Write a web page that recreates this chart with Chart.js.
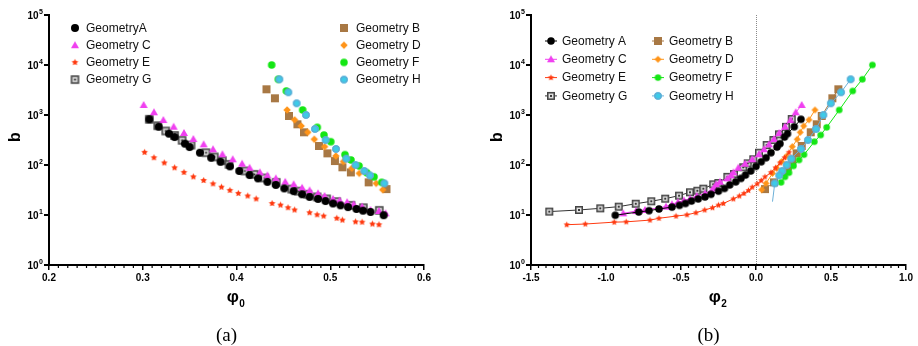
<!DOCTYPE html>
<html>
<head>
<meta charset="utf-8">
<script src="https://cdn.jsdelivr.net/npm/chart.js@4.4.1/dist/chart.umd.min.js"></script>
<style>
  html, body { margin: 0; padding: 0; background: #fff; }
  #wrap { position: relative; width: 918px; height: 346px; }
  .panel { position: absolute; top: 0; width: 459px; height: 346px; }
</style>
</head>
<body>
<div id="wrap">
  <div class="panel" style="left:0"><canvas id="panelA" width="459" height="346"></canvas></div>
  <div class="panel" style="left:459px"><canvas id="panelB" width="459" height="346"></canvas></div>
</div>
<script>
// b values are shared by both panels; phi0 is x in (a), phi2 is x in (b)
const bA    = [820, 583, 423, 363, 267, 229, 176, 140, 116, 94, 76, 63, 54, 46, 40, 34, 30, 26, 23, 21, 19, 17, 15.6, 14.4, 13.2, 12.2, 11.5, 9.9];
const phi0A = [0.307, 0.317, 0.328, 0.334, 0.345, 0.350, 0.361, 0.373, 0.383, 0.393, 0.403, 0.414, 0.423, 0.433, 0.442, 0.451, 0.461, 0.470, 0.478, 0.487, 0.495, 0.503, 0.511, 0.519, 0.528, 0.535, 0.543, 0.557];
const phi2A = [0.300, 0.255, 0.21, 0.19, 0.16, 0.14, 0.10, 0.067, 0.035, 0.0, -0.035, -0.07, -0.10, -0.135, -0.175, -0.21, -0.25, -0.30, -0.34, -0.385, -0.43, -0.47, -0.51, -0.56, -0.647, -0.713, -0.782, -0.938];

const bC    = [1585, 1132, 794, 583, 437, 331, 259, 206, 164, 130, 106, 88, 71, 62, 54, 46, 41, 35, 31, 27, 24, 21, 19.5, 18, 16.4, 14.7, 12.6, 12, 10.8];
const phi0C = [0.301, 0.312, 0.322, 0.333, 0.344, 0.354, 0.365, 0.375, 0.385, 0.396, 0.406, 0.414, 0.425, 0.433, 0.442, 0.452, 0.461, 0.470, 0.478, 0.487, 0.494, 0.503, 0.510, 0.518, 0.525, 0.534, 0.543, 0.552, 0.559];
const phi2C = [0.305, 0.265, 0.23, 0.193, 0.155, 0.12, 0.087, 0.053, 0.02, -0.025, -0.073, -0.118, -0.15, -0.167, -0.19, -0.24, -0.265, -0.28, -0.295, -0.34, -0.395, -0.44, -0.48, -0.52, -0.56, -0.60, -0.74, -0.80, -0.885];

const bE    = [179, 140, 110, 88, 71, 58, 49, 42, 36, 31, 27, 24, 21, 17, 15.8, 14, 12.6, 11.1, 10.1, 9.5, 8.6, 7.9, 7.3, 7.2, 6.6, 6.4];
const phi0E = [0.302, 0.312, 0.323, 0.334, 0.344, 0.354, 0.365, 0.375, 0.384, 0.393, 0.402, 0.412, 0.421, 0.438, 0.447, 0.455, 0.462, 0.478, 0.486, 0.493, 0.507, 0.513, 0.527, 0.534, 0.545, 0.552];
const phi2E = [0.22, 0.19, 0.16, 0.13, 0.10, 0.06, 0.035, 0.008, -0.025, -0.05, -0.08, -0.111, -0.151, -0.218, -0.25, -0.29, -0.342, -0.40, -0.46, -0.533, -0.647, -0.707, -0.865, -0.945, -1.138, -1.262];

// Geometry G read separately in each panel
const bG0   = [820, 611, 479, 390, 312, 251, 176, 145, 122, 103, 76, 65, 55, 45, 33, 30, 26, 23, 21, 18.5, 15.6, 14, 12.4];
const phi0G = [0.307, 0.316, 0.3245, 0.334, 0.342, 0.3515, 0.3675, 0.3763, 0.3849, 0.392, 0.409, 0.419, 0.430, 0.4424, 0.4589, 0.466, 0.476, 0.486, 0.4962, 0.5069, 0.5221, 0.5353, 0.5523];
const bG2   = [11.7, 12.6, 13.6, 14.7, 16.8, 18.8, 21.2, 24.4, 28.5, 30.6, 33.6, 41, 43.6, 58, 66, 90, 108, 130, 176, 251, 316, 410, 580, 830];
const phi2G = [-1.378, -1.18, -1.038, -0.915, -0.802, -0.698, -0.605, -0.513, -0.44, -0.391, -0.351, -0.285, -0.251, -0.191, -0.147, -0.085, -0.055, -0.018, 0.02, 0.071, 0.116, 0.153, 0.20, 0.238];

const bB    = [3265, 2158, 955, 652, 451, 240, 171, 120, 90, 71, 45, 33];
const phi0B = [0.432, 0.441, 0.456, 0.465, 0.472, 0.488, 0.497, 0.505, 0.513, 0.522, 0.541, 0.560];
const phi2B = [0.549, 0.509, 0.438, 0.405, 0.365, 0.305, 0.271, 0.242, 0.211, 0.182, 0.12, 0.06];

const bD    = [1259, 800, 603, 451, 327, 233, 151, 117, 86, 68, 43, 32];
const phi0D = [0.454, 0.462, 0.469, 0.476, 0.483, 0.494, 0.506, 0.514, 0.523, 0.531, 0.549, 0.556];
const phi2D = [0.393, 0.353, 0.318, 0.295, 0.275, 0.242, 0.205, 0.171, 0.138, 0.11, 0.067, 0.038];

const bF    = [10000, 5176, 3020, 1259, 567, 398, 292, 161, 126, 96, 70, 58, 45];
const phi0F = [0.4375, 0.4446, 0.4532, 0.4706, 0.4862, 0.4933, 0.5006, 0.5157, 0.5221, 0.5307, 0.539, 0.5467, 0.5549];
const phi2F = [0.776, 0.709, 0.645, 0.555, 0.471, 0.431, 0.389, 0.32, 0.287, 0.25, 0.22, 0.193, 0.167];

const bH    = [5176, 2844, 1714, 1000, 525, 316, 209, 134, 100, 76, 62, 43];
const phi0H = [0.4457, 0.4553, 0.4642, 0.4741, 0.4837, 0.4951, 0.5061, 0.5171, 0.527, 0.5363, 0.5424, 0.5577];
const phi2H = [0.631, 0.567, 0.499, 0.449, 0.40, 0.346, 0.30, 0.235, 0.205, 0.175, 0.155, 0.125];
// fitted line for H runs on below its last point
const fitHphi2 = [0.125, 0.11];
const fitHb    = [43, 18.5];

const labelsA = { A: "GeometryA", B: "Geometry B", C: "Geometry C", D: "Geometry D", E: "Geometry E", F: "Geometry F", G: "Geometry G", H: "Geometry H" };
const labelsB = { A: "Geometry A", B: "Geometry B", C: "Geometry C", D: "Geometry D", E: "Geometry E", F: "Geometry F", G: "Geometry G", H: "Geometry H" };

const colors = { A: "#000000", B: "#a87844", C: "#f040f0", D: "#ff9418", E: "#ff3a10", F: "#14e614", G: "#333333", H: "#6cb0d8" };

function pts(xs, ys) {
  return xs.map((x, i) => ({ x, y: ys[i] }));
}

// small canvases used as point styles
function makeMarker(kind, size, fill, ring) {
  const s = Math.ceil(size) + 2;
  const c = document.createElement("canvas");
  c.width = s;
  c.height = s;
  const g = c.getContext("2d");
  const m = s / 2, r = size / 2;
  g.fillStyle = fill;
  g.beginPath();
  if (kind === "circle") {
    g.arc(m, m, r, 0, Math.PI * 2);
    g.fill();
    if (ring) {
      g.strokeStyle = ring;
      g.lineWidth = 1.2;
      g.beginPath();
      g.arc(m, m, r - 0.6, 0, Math.PI * 2);
      g.stroke();
    }
  } else if (kind === "triangle") {
    g.moveTo(m, m - r);
    g.lineTo(m + r, m + r * 0.75);
    g.lineTo(m - r, m + r * 0.75);
    g.closePath();
    g.fill();
  } else if (kind === "star") {
    for (let i = 0; i < 10; i++) {
      const a = -Math.PI / 2 + (i * Math.PI) / 5;
      const rr = i % 2 ? r * 0.5 : r;
      g.lineTo(m + rr * Math.cos(a), m + rr * Math.sin(a));
    }
    g.closePath();
    g.fill();
  } else if (kind === "square") {
    g.fillRect(m - r, m - r, size, size);
  } else if (kind === "diamond") {
    g.moveTo(m, m - r);
    g.lineTo(m + r, m);
    g.lineTo(m, m + r);
    g.lineTo(m - r, m);
    g.closePath();
    g.fill();
  } else if (kind === "framed") {
    g.fillStyle = "#444444";
    g.fillRect(m - r, m - r, size, size);
    g.fillStyle = "#8e8e8e";
    g.fillRect(m - r + 1.3, m - r + 1.3, size - 2.6, size - 2.6);
    const q = size * 0.27;
    g.fillStyle = "#e4e4e4";
    g.fillRect(m - q, m - q, 2 * q, 2 * q);
    g.fillStyle = "#111111";
    g.fillRect(m - 0.9, m - 0.9, 1.8, 1.8);
  }
  return c;
}

const markersA = {
  A: makeMarker("circle", 8, colors.A),
  C: makeMarker("triangle", 8, colors.C),
  E: makeMarker("star", 7, colors.E),
  G: makeMarker("framed", 8.5),
  B: makeMarker("square", 8, colors.B),
  D: makeMarker("diamond", 7.5, colors.D),
  F: makeMarker("circle", 7.5, colors.F),
  H: makeMarker("circle", 7.5, "#3ccbe8", "#62a9d4"),
};
const markersB = {
  A: makeMarker("circle", 7.5, colors.A),
  C: makeMarker("triangle", 8, colors.C),
  E: makeMarker("star", 6.5, colors.E),
  G: makeMarker("framed", 8),
  B: makeMarker("square", 8, colors.B),
  D: makeMarker("diamond", 7, colors.D),
  F: makeMarker("circle", 6.5, colors.F),
  H: makeMarker("circle", 7.5, "#3ccbe8", "#62a9d4"),
};

// lower order = drawn on top
const drawOrder = { A: 1, C: 2, E: 3, G: 4, H: 5, F: 6, D: 7, B: 8 };

function series(key, data, labels, markers, withLine) {
  return {
    label: labels[key],
    data,
    order: drawOrder[key],
    showLine: withLine,
    borderColor: colors[key],
    borderWidth: 1,
    backgroundColor: colors[key],
    pointStyle: markers[key],
    pointRadius: 4,
  };
}

const leftSets = [
  series("A", pts(phi0A, bA), labelsA, markersA, false),
  series("C", pts(phi0C, bC), labelsA, markersA, false),
  series("E", pts(phi0E, bE), labelsA, markersA, false),
  series("G", pts(phi0G, bG0), labelsA, markersA, false),
  series("B", pts(phi0B, bB), labelsA, markersA, false),
  series("D", pts(phi0D, bD), labelsA, markersA, false),
  series("F", pts(phi0F, bF), labelsA, markersA, false),
  series("H", pts(phi0H, bH), labelsA, markersA, false),
];

const rightSets = [
  series("A", pts(phi2A, bA), labelsB, markersB, true),
  series("C", pts(phi2C, bC), labelsB, markersB, true),
  series("E", pts(phi2E, bE), labelsB, markersB, true),
  series("G", pts(phi2G, bG2), labelsB, markersB, true),
  series("B", pts(phi2B, bB), labelsB, markersB, true),
  series("D", pts(phi2D, bD), labelsB, markersB, true),
  series("F", pts(phi2F, bF), labelsB, markersB, true),
  series("H", pts(phi2H, bH), labelsB, markersB, true),
  {
    label: "H fit",
    data: pts(fitHphi2, fitHb),
    order: 9,
    showLine: true,
    borderColor: colors.H,
    borderWidth: 1,
    pointRadius: 0,
  },
];

function decor(opts) {
  return {
    id: "decor",
    beforeDatasetsDraw(chart) {
      if (!opts.zeroLine) return;
      const { ctx, chartArea: a } = chart;
      const px = Math.round(chart.scales.x.getPixelForValue(0)) + 0.5;
      ctx.save();
      ctx.strokeStyle = "#8a8a8a";
      ctx.lineWidth = 1;
      ctx.setLineDash([1, 1]);
      ctx.beginPath();
      ctx.moveTo(px, a.top);
      ctx.lineTo(px, a.bottom);
      ctx.stroke();
      ctx.restore();
    },
    afterDraw(chart) {
      const { ctx, chartArea: a } = chart;
      const x = chart.scales.x;
      const y = chart.scales.y;
      ctx.save();

      // minor ticks on x
      ctx.strokeStyle = "#000";
      ctx.lineWidth = 1.2;
      const n = Math.round((x.max - x.min) / opts.minor);
      const per = Math.round(opts.major / opts.minor);
      for (let i = 0; i <= n; i++) {
        if (i % per === 0) continue;
        const px = x.getPixelForValue(x.min + i * opts.minor);
        ctx.beginPath();
        ctx.moveTo(px, a.bottom);
        ctx.lineTo(px, a.bottom + 3);
        ctx.stroke();
      }

      // y tick labels as 10 with superscript
      ctx.fillStyle = "#000";
      ctx.textAlign = "right";
      ctx.textBaseline = "alphabetic";
      y.ticks.forEach((t) => {
        const e = Math.round(Math.log10(t.value));
        const py = y.getPixelForValue(t.value);
        const right = a.left - 6;
        ctx.font = 'bold 7px "Liberation Sans"';
        const sw = ctx.measureText(String(e)).width;
        ctx.fillText(String(e), right, py - 1);
        ctx.font = 'bold 10px "Liberation Sans"';
        ctx.fillText("10", right - sw - 0.5, py + 3.6);
      });

      // y title
      ctx.save();
      ctx.translate(a.left - 35, (a.top + a.bottom) / 2 - 3);
      ctx.rotate(-Math.PI / 2);
      ctx.textAlign = "center";
      ctx.font = 'bold 16px "Liberation Sans"';
      ctx.fillText("b", 0, 6);
      ctx.restore();

      // x title phi with subscript
      const cx = (a.left + a.right) / 2;
      ctx.font = 'bold 17px "Liberation Sans"';
      const pw = ctx.measureText("\u03c6").width;
      ctx.font = 'bold 10px "Liberation Sans"';
      const sw2 = ctx.measureText(opts.sub).width;
      const x0 = cx - (pw + sw2) / 2 - 1;
      ctx.textAlign = "left";
      ctx.font = 'bold 17px "Liberation Sans"';
      ctx.fillText("\u03c6", x0, 302);
      ctx.font = 'bold 10px "Liberation Sans"';
      ctx.fillText(opts.sub, x0 + pw + 0.5, 307);

      // caption
      ctx.textAlign = "center";
      ctx.font = '19px "Liberation Serif"';
      ctx.fillText(opts.caption, cx - 10, 341);

      // legend
      ctx.textAlign = "left";
      ctx.textBaseline = "middle";
      ctx.font = '12px "Liberation Sans"';
      opts.legend.cols.forEach((col) => {
        col.keys.forEach((k, i) => {
          const ly = opts.legend.top + i * opts.legend.step;
          const mk = opts.legend.markers[k];
          if (opts.legend.withLine) {
            ctx.strokeStyle = colors[k];
            ctx.lineWidth = 1;
            ctx.beginPath();
            ctx.moveTo(col.mx - 6, ly);
            ctx.lineTo(col.mx + 6, ly);
            ctx.stroke();
          }
          ctx.drawImage(mk, col.mx - mk.width / 2, ly - mk.height / 2);
          ctx.fillStyle = "#111";
          ctx.fillText(opts.legend.labels[k], col.tx, ly + 0.5);
        });
      });
      ctx.restore();
    },
  };
}

function buildPanel(id, datasets, cfg) {
  return new Chart(document.getElementById(id), {
    type: "scatter",
    data: { datasets },
    options: {
      responsive: false,
      animation: false,
      devicePixelRatio: 1,
      events: [],
      layout: { padding: { left: 0, right: cfg.padRight, top: 15, bottom: 0 } },
      plugins: { legend: { display: false }, tooltip: { enabled: false } },
      scales: {
        x: {
          type: "linear",
          min: cfg.min,
          max: cfg.max,
          afterFit: (s) => { s.height = 81; },
          border: { display: true, color: "#000", width: 2 },
          grid: { drawOnChartArea: false, drawTicks: true, tickLength: 5, color: "#000", lineWidth: 1.5 },
          ticks: {
            stepSize: cfg.major,
            autoSkip: false,
            maxRotation: 0,
            padding: 2,
            color: "#000",
            font: { family: "Liberation Sans", size: 10, weight: "bold" },
            callback: (v) => Number(v).toFixed(1),
          },
        },
        y: {
          type: "logarithmic",
          min: 1,
          max: 100000,
          afterFit: (s) => { s.width = cfg.yWidth; },
          afterBuildTicks: (s) => {
            s.ticks = s.ticks.filter((t) => {
              const l = Math.log10(t.value);
              return Math.abs(l - Math.round(l)) < 1e-6;
            });
          },
          border: { display: true, color: "#000", width: 2 },
          grid: { drawOnChartArea: false, drawTicks: true, tickLength: 5, color: "#000", lineWidth: 2 },
          ticks: { display: false },
        },
      },
    },
    plugins: [decor(cfg)],
  });
}

buildPanel("panelA", leftSets, {
  min: 0.2, max: 0.6, major: 0.1, minor: 0.01,
  padRight: 35, yWidth: 49, sub: "0", caption: "(a)", zeroLine: false,
  legend: {
    top: 28, step: 17.2, withLine: false, markers: markersA, labels: labelsA,
    cols: [
      { mx: 75, tx: 86, keys: ["A", "C", "E", "G"] },
      { mx: 344, tx: 356, keys: ["B", "D", "F", "H"] },
    ],
  },
});

buildPanel("panelB", rightSets, {
  min: -1.5, max: 1.0, major: 0.5, minor: 0.05,
  padRight: 12, yWidth: 72, sub: "2", caption: "(b)", zeroLine: true,
  legend: {
    top: 41, step: 18.3, withLine: true, markers: markersB, labels: labelsB,
    cols: [
      { mx: 92, tx: 103, keys: ["A", "C", "E", "G"] },
      { mx: 199, tx: 210, keys: ["B", "D", "F", "H"] },
    ],
  },
});
</script>
</body>
</html>
